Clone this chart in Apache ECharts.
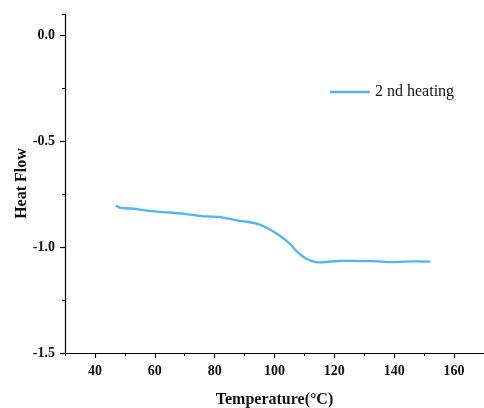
<!DOCTYPE html>
<html>
<head>
<meta charset="utf-8">
<script src="https://cdn.jsdelivr.net/npm/echarts@6/dist/echarts.min.js"></script>
<style>html,body{margin:0;padding:0;background:#fff}#c{width:484px;height:408px}</style>
</head>
<body>
<div id="c"></div>
<script>
const temperature = [47, 47.8, 48.7, 52, 55, 58.1, 62, 66, 69.2, 72, 75.9, 78.5, 81.4, 84.5, 88.1, 91, 93.7, 96.5, 99.2, 101.5, 103.7, 105.5, 107, 108.7, 110.3, 112.5, 114.8, 117, 119.2, 122, 124.8, 128.5, 132.5, 136, 139.2, 143, 147, 152];
const heatFlow = [-0.803, -0.811, -0.815, -0.818, -0.823, -0.829, -0.834, -0.838, -0.842, -0.847, -0.854, -0.856, -0.858, -0.866, -0.876, -0.881, -0.888, -0.903, -0.923, -0.944, -0.967, -0.99, -1.014, -1.036, -1.053, -1.066, -1.072, -1.071, -1.068, -1.065, -1.065, -1.066, -1.066, -1.069, -1.071, -1.069, -1.068, -1.069];
const seriesName = '2 nd heating';
const xTicks = [40, 60, 80, 100, 120, 140, 160];
const yTicks = [-1.5, -1.0, -0.5, 0.0];

const data = temperature.map((t, i) => [t, heatFlow[i]]);
const chart = echarts.init(document.getElementById('c'));
const serif = '"Liberation Serif", "Times New Roman", serif';
const lbl = { fontFamily: serif, fontSize: 14, fontWeight: 'bold', color: '#111' };
chart.setOption({
  animation: false,
  grid: { left: 65, right: 0, top: 14, bottom: 55, containLabel: false, outerBoundsMode: 'none' },
  legend: {
    left: 325, top: 79, itemWidth: 40, itemHeight: 2.5, itemGap: 5, icon: 'rect',
    textStyle: { fontFamily: serif, fontSize: 16, color: '#111' },
    data: [seriesName]
  },
  xAxis: [{
    type: 'value', min: 30, max: 170, position: 'bottom',
    name: 'Temperature(°C)', nameLocation: 'middle', nameGap: 39,
    nameTextStyle: { fontFamily: serif, fontSize: 16, fontWeight: 'bold', color: '#111' },
    axisLine: { show: true, onZero: false, lineStyle: { color: '#000', width: 1.2 } },
    axisTick: { show: true, length: 5, customValues: xTicks, lineStyle: { color: '#000', width: 1.2 } },
    splitLine: { show: false },
    axisLabel: Object.assign({ margin: 11, customValues: xTicks, formatter: v => String(v) }, lbl)
  }, {
    type: 'value', min: 30, max: 170, interval: 10, position: 'bottom', offset: 0,
    axisLine: { show: false, onZero: false },
    axisTick: { show: true, length: 3, lineStyle: { color: '#000' } },
    axisLabel: { show: false }, splitLine: { show: false }
  }],
  yAxis: [{
    type: 'value', min: -1.5, max: 0.1, position: 'left',
    name: 'Heat Flow', nameLocation: 'middle', nameGap: 35, nameMoveOverlap: false,
    nameTextStyle: { fontFamily: serif, fontSize: 16, fontWeight: 'bold', color: '#111' },
    axisLine: { show: true, onZero: false, lineStyle: { color: '#000', width: 1.2 } },
    axisTick: { show: true, length: 5, customValues: yTicks, lineStyle: { color: '#000', width: 1.2 } },
    splitLine: { show: false },
    axisLabel: Object.assign({ margin: 10, customValues: yTicks, formatter: v => v.toFixed(1) }, lbl)
  }, {
    type: 'value', min: -1.5, max: 0.1, interval: 0.25, position: 'left', offset: 0,
    axisLine: { show: false, onZero: false },
    axisTick: { show: true, length: 3, lineStyle: { color: '#000' } },
    axisLabel: { show: false }, splitLine: { show: false }
  }],
  series: [{
    name: seriesName, type: 'line', data: data, symbol: 'none', smooth: 0.3,
    lineStyle: { color: '#4DB6F7', width: 2.3 }, itemStyle: { color: '#4DB6F7' }
  }]
});
</script>
</body>
</html>
